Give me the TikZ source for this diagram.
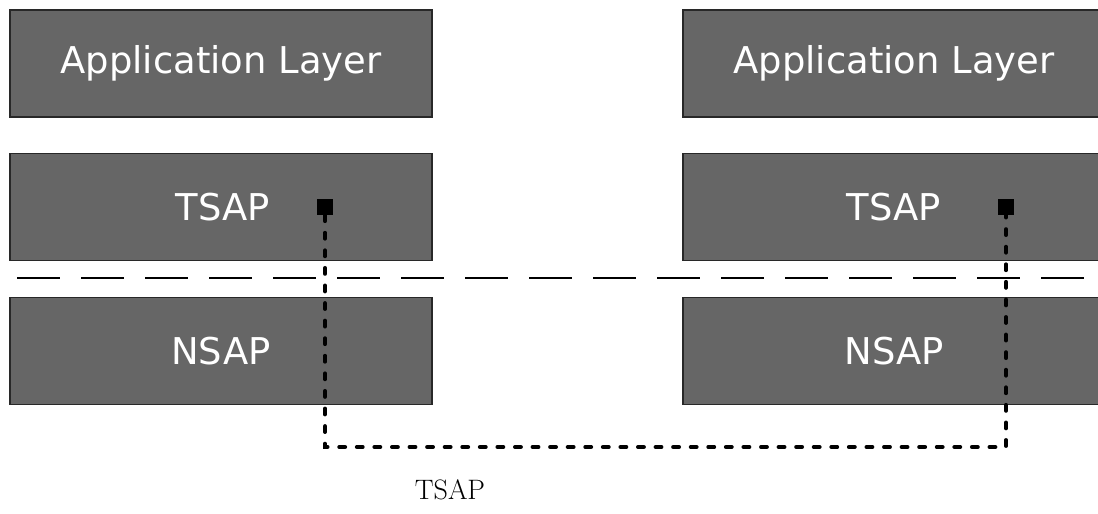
\documentclass[tikz,border=0pt]{standalone}
\usepackage{fontspec}
\usepackage{tikz}
\usetikzlibrary{positioning,calc}
\newfontfamily\boxfont{DejaVu Sans}
\definecolor{layergray}{RGB}{102,102,102}
\definecolor{layeredge}{RGB}{40,40,40}

\begin{document}
\begin{tikzpicture}[x=0.03cm, y=-0.03cm,
    layerbox/.style={rectangle, draw=layeredge, line width=1pt, fill=layergray, minimum width=12.66cm, minimum height=3.21cm, text=white, font=\boxfont\fontsize{31.5}{36}\selectfont},
    sapdot/.style={rectangle, fill=black, inner sep=0pt, minimum size=0.48cm},
    sapline/.style={line width=3.4pt, line cap=round, dash pattern=on 5pt off 10pt},
    split/.style={line width=1.6pt, dash pattern=on 1.29cm off 0.63cm},
]
    \useasboundingbox (0,0) rectangle (1098,514);

    % left stack
    \node[layerbox] (appL) at (221, 63.5) {Application Layer};
    \node[layerbox] (tsapL) at (221, 207) {\hspace*{0.1cm}TSAP};
    \node[layerbox] (nsapL) at (221, 351) {NSAP};

    % right stack
    \node[layerbox] (appR) at (894, 63.5) {Application Layer};
    \node[layerbox] (tsapR) at (894, 207) {TSAP};
    \node[layerbox] (nsapR) at (894, 351) {NSAP};

    % boundary between transport and network
    \coordinate (splitL) at (17, 278);
    \coordinate (splitR) at (1098, 278);
    \draw[split] (splitL) -- (splitR);

    % access points and their link
    \node[sapdot] (dotL) at (325, 207) {};
    \node[sapdot] (dotR) at (1006, 207) {};
    \coordinate (low) at (665, 447);
    \draw[sapline] (dotL) -- (dotL |- low) -- (dotR |- low) -- (dotR);

    \node[font=\fontsize{24}{28}\selectfont] (cap) at (450, 490) {TSAP};
\end{tikzpicture}
\end{document}
